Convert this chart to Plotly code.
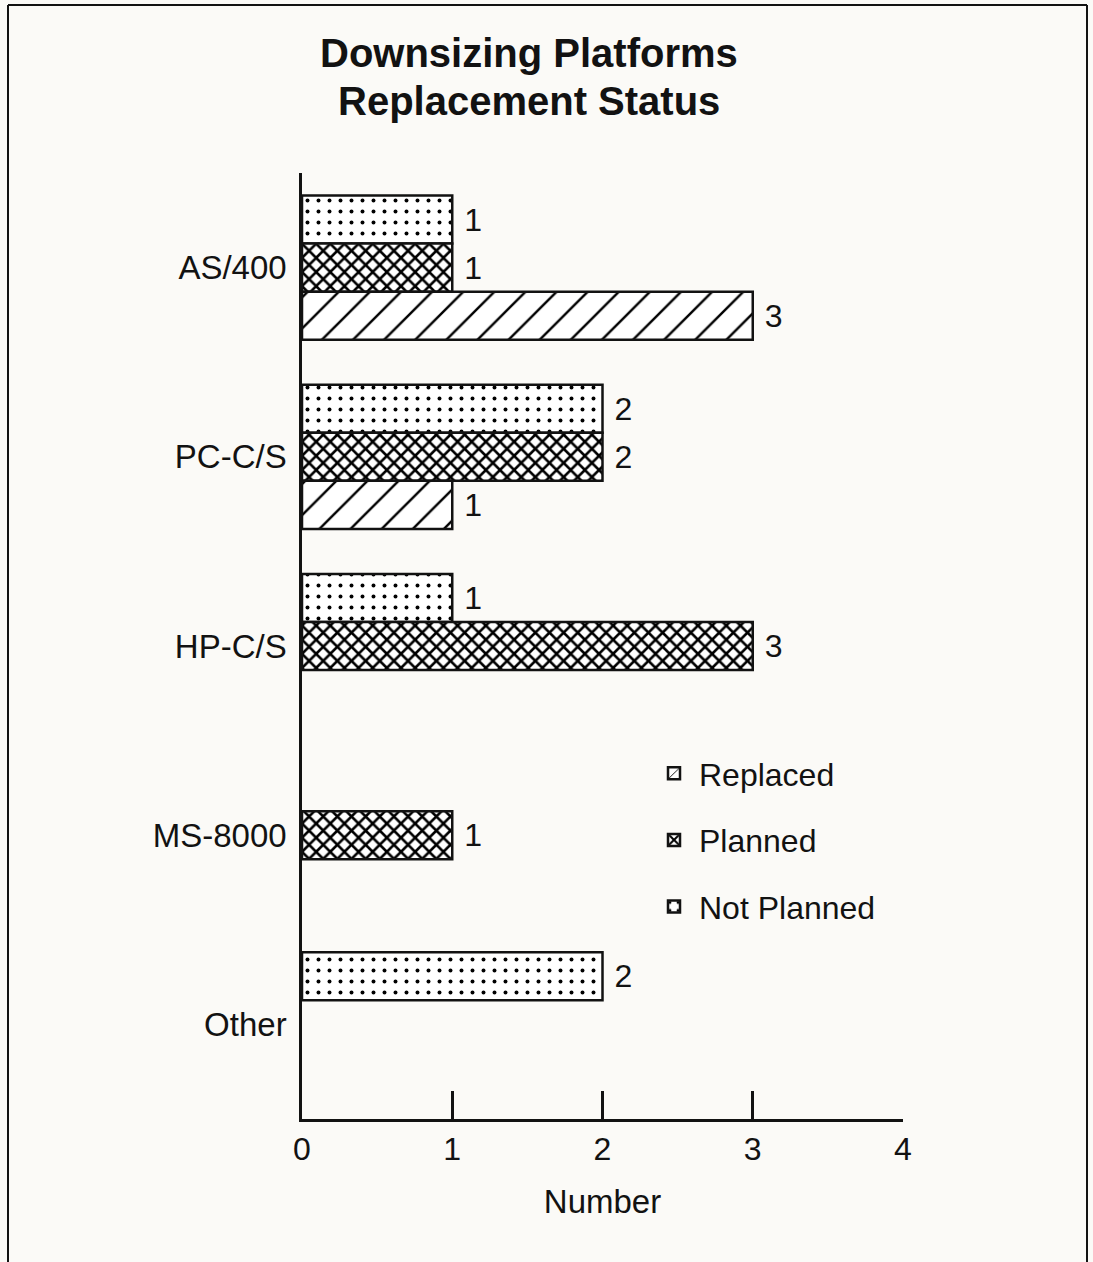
import plotly.graph_objects as go

categories = ["AS/400", "PC-C/S", "HP-C/S", "MS-8000", "Other"]
not_planned = [1, 2, 1, None, 2]
planned = [1, 2, 3, 1, None]
replaced = [3, 1, None, None, None]
x_ticks = [0, 1, 2, 3, 4]

FONT = "Liberation Sans, Arial, Helvetica, sans-serif"
INK = "#121212"
BG = "#fbfaf7"

W, H = 1093, 1262
L, R, T, B = 302, 190, 173, 143

series = [
    ("Not Planned", not_planned, dict(shape=".", size=11, solidity=0.1), 3),
    ("Planned", planned, dict(shape="x", size=10, solidity=0.45), 2),
    ("Replaced", replaced, dict(shape="/", size=22, solidity=0.11), 1),
]

fig = go.Figure()
for name, vals, pat, rank in series:
    fig.add_trace(go.Bar(
        y=categories, x=vals, name=name, orientation="h",
        legendgroup=name, legendrank=rank,
        marker=dict(color="white", line=dict(color=INK, width=2.5),
                    pattern=dict(fgcolor="#000000", fgopacity=1, fillmode="overlay", **pat)),
        text=vals, texttemplate="\u00a0%{x}", textposition="outside",
        textfont=dict(size=32, color=INK, family=FONT),
        cliponaxis=False,
    ))

def px2x(px):
    return (px - L) / (W - L - R)

def py2y(py):
    return (H - B - py) / (H - T - B)

fig.update_layout(
    width=W, height=H,
    margin=dict(l=L, r=R, t=T, b=B, pad=0),
    paper_bgcolor=BG, plot_bgcolor=BG,
    barmode="group", bargap=0.238, bargroupgap=0,
    font=dict(family=FONT, color=INK, size=32),
    showlegend=True,
    legend=dict(traceorder="grouped", tracegroupgap=22,
                x=px2x(649), y=py2y(746), xanchor="left", yanchor="top",
                font=dict(size=32, family=FONT, color=INK),
                bgcolor="rgba(0,0,0,0)", borderwidth=0, itemwidth=40),
)
fig.update_xaxes(range=[0, 4], tickvals=x_ticks, ticktext=[str(v) for v in x_ticks],
                 showgrid=False, zeroline=False, showline=True, linecolor=INK, linewidth=2.5,
                 ticks="inside", ticklen=28, tickwidth=2.5, tickcolor=INK,
                 tickfont=dict(size=32, family=FONT, color=INK),
                 title=dict(text="Number", font=dict(size=33, family=FONT, color=INK), standoff=24))
fig.update_yaxes(autorange="reversed", showgrid=False, zeroline=False, showline=True,
                 linecolor=INK, linewidth=2.5, ticks="", ticklabelstandoff=6,
                 tickfont=dict(size=33, family=FONT, color=INK))

fig.add_annotation(text="<b>Downsizing Platforms</b>", xref="paper", yref="paper",
                   x=px2x(529), y=py2y(53), xanchor="center", yanchor="middle", showarrow=False,
                   font=dict(size=40, family=FONT, color=INK))
fig.add_annotation(text="<b>Replacement Status</b>", xref="paper", yref="paper",
                   x=px2x(529), y=py2y(101), xanchor="center", yanchor="middle", showarrow=False,
                   font=dict(size=40, family=FONT, color=INK))

# outer frame (left, top, right edges; bottom runs off the page)
for x0, y0, x1, y1 in [(8, 5, 8, 1262), (8, 5, 1087, 5), (1087, 5, 1087, 1262)]:
    fig.add_shape(type="line", xref="paper", yref="paper",
                  x0=px2x(x0), y0=py2y(y0), x1=px2x(x1), y1=py2y(y1),
                  line=dict(color=INK, width=2))

fig.write_html("out.html", config={"displayModeBar": False},
               post_script="document.body.style.margin='0';document.body.style.overflow='hidden';")
